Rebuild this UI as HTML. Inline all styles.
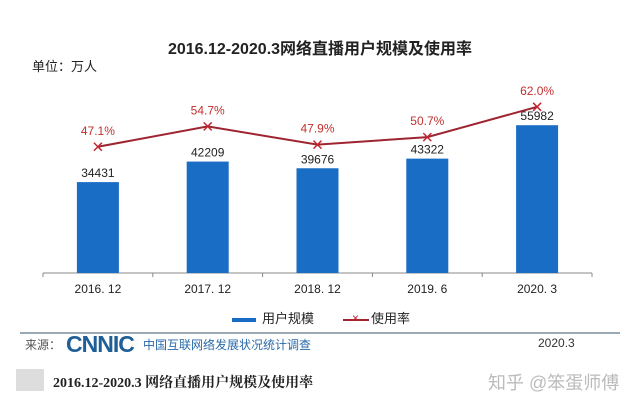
<!DOCTYPE html>
<html><head><meta charset="utf-8"><style>
body{margin:0;width:640px;height:406px;background:#fff;overflow:hidden;font-family:"Liberation Sans","Noto Sans CJK SC",sans-serif;position:relative}
.a{position:absolute;white-space:nowrap}
</style></head><body>
<div class="a" style="left:0;width:640px;text-align:center;top:35px;font-size:16px;font-weight:bold;color:#222">2016.12-2020.3网络直播用户规模及使用率</div>
<div class="a" style="left:32px;top:56px;font-size:13px;color:#222">单位：万人</div>
<svg id="c" width="640" height="406" style="position:absolute;left:0;top:0"></svg>
<div class="a" style="left:232px;top:308px;font-size:13px;color:#222"><span style="display:inline-block;width:24px;height:4px;background:#1a6dc4;vertical-align:middle;margin-right:6px"></span>用户规模</div>
<div class="a" style="left:343px;top:308px;font-size:13px;color:#222"><span style="display:inline-block;width:26px;height:2px;background:#a3242f;vertical-align:middle;margin-right:2px;position:relative"><span style="position:absolute;left:9px;top:-8px;color:#c0262f;font-size:12px">×</span></span>使用率</div>
<div class="a" style="left:20px;top:332px;width:600px;height:2px;background:#9aa9b4"></div>
<div class="a" style="left:25px;top:336px;font-size:12px;color:#555">来源：</div>
<div class="a" style="left:66px;top:331px;font-size:23px;font-weight:bold;color:#1d5f96;letter-spacing:-1px">CNNIC</div>
<div class="a" style="left:143px;top:336px;font-size:12px;color:#2a6aa8">中国互联网络发展状况统计调查</div>
<div class="a" style="left:538px;top:336px;font-size:12px;color:#333">2020.3</div>
<div class="a" style="left:16px;top:369px;width:28px;height:22px;background:#ddd"></div>
<div class="a" style="left:53px;top:372px;font-size:14px;font-weight:bold;color:#222;font-family:'Liberation Serif','Noto Serif CJK SC',serif">2016.12-2020.3 网络直播用户规模及使用率</div>
<div class="a" style="left:488px;top:369px;font-size:18px;color:#bbb">知乎 @笨蛋师傅</div>
<script>
const categories=["2016. 12","2017. 12","2018. 12","2019. 6","2020. 3"];
const users=[34431,42209,39676,43322,55982];
const rates=[47.1,54.7,47.9,50.7,62.0];
const rateLabels=["47.1%","54.7%","47.9%","50.7%","62.0%"];
const svg=document.getElementById('c');const NS='http://www.w3.org/2000/svg';
const x0=43,x1=592,base=273,band=(x1-x0)/categories.length;
const xc=i=>x0+band*(i+0.5);
const yb=v=>base-v*0.00264;
const yr=v=>base-v*2.68;
function mk(t,a){const e=document.createElementNS(NS,t);for(const k in a)e.setAttribute(k,a[k]);svg.appendChild(e);return e;}
let ax=mk('line',{x1:x0,y1:base,x2:x1,y2:base,stroke:'#888','stroke-width':1});


for(let i=0;i<=categories.length;i++){let t=mk('line',{x1:x0+band*i,y1:base,x2:x0+band*i,y2:base+4,stroke:'#888'});

}
users.forEach((v,i)=>{
let r=mk('rect',{x:xc(i)-21,y:yb(v),width:42,height:base-yb(v),fill:'#1a6dc4'});


let t=mk('text',{x:xc(i),y:yb(v)-5,'text-anchor':'middle','font-size':12,fill:'#222','font-family':'Liberation Sans'});t.textContent=v;


let c=mk('text',{x:xc(i),y:base+20,'text-anchor':'middle','font-size':12,fill:'#222','font-family':'Liberation Sans'});c.textContent=categories[i];


});
let pl=mk('polyline',{points:rates.map((v,i)=>xc(i)+','+yr(v)).join(' '),fill:'none',stroke:'#9e2430','stroke-width':2});


rates.forEach((v,i)=>{
let m=mk('path',{d:`M${xc(i)-4},${yr(v)-4}L${xc(i)+4},${yr(v)+4}M${xc(i)-4},${yr(v)+4}L${xc(i)+4},${yr(v)-4}`,stroke:'#c0262f','stroke-width':1.5});


let t=mk('text',{x:xc(i),y:yr(v)-12,'text-anchor':'middle','font-size':12,fill:'#c0302f','font-family':'Liberation Sans'});t.textContent=rateLabels[i];


});
</script>
</body></html>
